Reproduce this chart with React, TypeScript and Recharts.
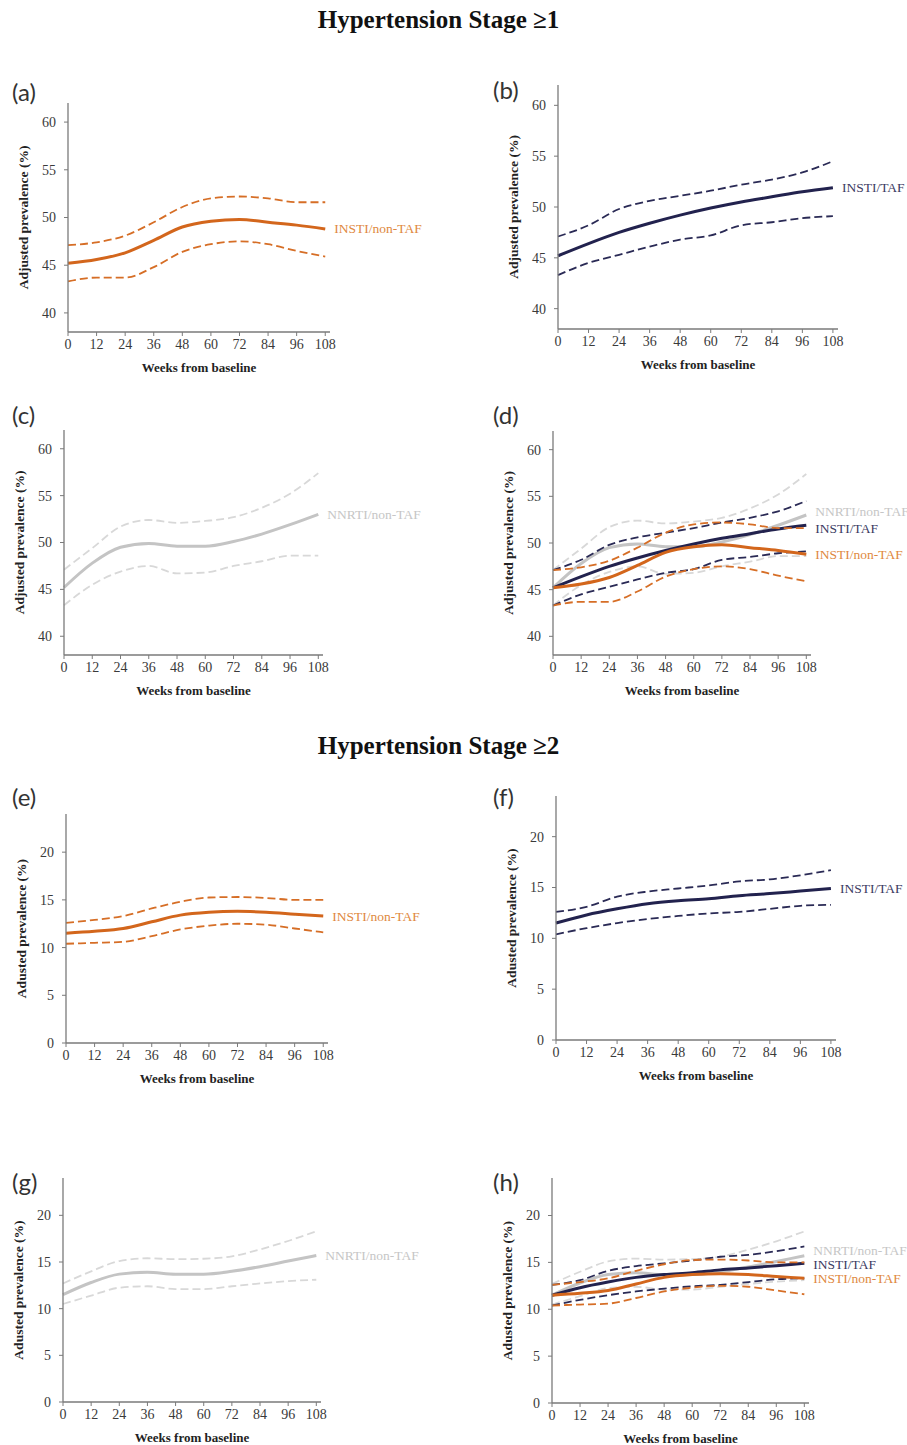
import React from 'react';
import { LineChart, Line, XAxis, YAxis } from 'recharts';

const weeks = [0, 12, 24, 36, 48, 60, 72, 84, 96, 108];
const stage1Ticks = [40, 45, 50, 55, 60];
const stage2Ticks = [0, 5, 10, 15, 20];

// Hypertension stage >=1
const insNonTaf1Mid = [45.2, 45.6, 46.3, 47.6, 49.0, 49.6, 49.8, 49.5, 49.2, 48.8];
const insNonTaf1Hi = [47.1, 47.4, 48.1, 49.5, 51.1, 52.0, 52.2, 52.0, 51.6, 51.6];
const insNonTaf1Lo = [43.3, 43.7, 43.7, 44.8, 46.4, 47.2, 47.5, 47.2, 46.5, 45.9];

const insTaf1Mid = [45.2, 46.4, 47.5, 48.4, 49.2, 49.9, 50.5, 51.0, 51.5, 51.9];
const insTaf1Hi = [47.1, 48.2, 49.8, 50.6, 51.1, 51.6, 52.2, 52.7, 53.4, 54.5];
const insTaf1Lo = [43.3, 44.5, 45.3, 46.1, 46.8, 47.2, 48.2, 48.5, 48.9, 49.1];

const nnrti1Mid = [45.2, 47.8, 49.5, 49.9, 49.6, 49.6, 50.1, 50.9, 51.9, 53.0];
const nnrti1Hi = [47.1, 49.4, 51.7, 52.4, 52.1, 52.3, 52.7, 53.7, 55.2, 57.4];
const nnrti1Lo = [43.3, 45.5, 46.9, 47.5, 46.7, 46.8, 47.5, 48.0, 48.6, 48.6];

// Hypertension stage >=2
const insNonTaf2Mid = [11.5, 11.7, 12.0, 12.7, 13.4, 13.7, 13.8, 13.7, 13.5, 13.3];
const insNonTaf2Hi = [12.6, 12.9, 13.3, 14.1, 14.8, 15.25, 15.3, 15.2, 15.0, 15.0];
const insNonTaf2Lo = [10.4, 10.5, 10.6, 11.2, 11.9, 12.3, 12.5, 12.4, 12.0, 11.6];

const insTaf2Mid = [11.5, 12.3, 12.9, 13.4, 13.7, 13.9, 14.2, 14.4, 14.65, 14.9];
const insTaf2Hi = [12.6, 13.1, 14.1, 14.6, 14.9, 15.2, 15.6, 15.8, 16.2, 16.7];
const insTaf2Lo = [10.4, 11.0, 11.5, 11.9, 12.2, 12.45, 12.6, 12.9, 13.2, 13.3];

const nnrti2Mid = [11.5, 12.8, 13.7, 13.9, 13.7, 13.7, 14.0, 14.5, 15.1, 15.7];
const nnrti2Hi = [12.7, 14.0, 15.1, 15.4, 15.3, 15.35, 15.6, 16.35, 17.25, 18.3];
const nnrti2Lo = [10.5, 11.4, 12.25, 12.4, 12.1, 12.1, 12.4, 12.7, 12.95, 13.1];

const buildRows = (groups: Record<string, number[]>) =>
  weeks.map((week, i) => {
    const row: any = { week };
    Object.keys(groups).forEach((k) => (row[k] = groups[k][i]));
    return row;
  });

const stage1Rows = buildRows({
  insMid: insNonTaf1Mid, insHi: insNonTaf1Hi, insLo: insNonTaf1Lo,
  tafMid: insTaf1Mid, tafHi: insTaf1Hi, tafLo: insTaf1Lo,
  nnMid: nnrti1Mid, nnHi: nnrti1Hi, nnLo: nnrti1Lo,
});
const stage2Rows = buildRows({
  insMid: insNonTaf2Mid, insHi: insNonTaf2Hi, insLo: insNonTaf2Lo,
  tafMid: insTaf2Mid, tafHi: insTaf2Hi, tafLo: insTaf2Lo,
  nnMid: nnrti2Mid, nnHi: nnrti2Hi, nnLo: nnrti2Lo,
});

const SERIF = '"Liberation Serif", "Times New Roman", serif';
const AXIS = '#7a7a7a';

type Series = { key: string; label: string; solid: string; dash: string; text: string; dy?: number };

const INS: Series = { key: 'ins', label: 'INSTI/non-TAF', solid: '#d3661c', dash: '#d66e26', text: '#e0883e' };
const TAF: Series = { key: 'taf', label: 'INSTI/TAF', solid: '#22224e', dash: '#2a2a55', text: '#3b3b62' };
const NN: Series = { key: 'nn', label: 'NNRTI/non-TAF', solid: '#c4c4c4', dash: '#d8d8d8', text: '#c6c6c6' };

interface PanelProps {
  letter: string;
  letterY: number;
  box: [number, number, number, number];
  domain: [number, number];
  yTicks: number[];
  yLabel: string;
  data: any[];
  series: Series[];
}

const Panel = ({ letter, letterY, box, domain, yTicks, yLabel, data, series }: PanelProps) => {
  const [x1, y1, x2, y2] = box;
  const padL = 60;
  const padT = 6;
  const padR = 110;
  const padB = 44;
  const last = weeks.length - 1;
  return (
    <>
      <div
        style={{
          position: 'absolute',
          left: x1 < 300 ? 12 : 493,
          top: letterY - 14,
          height: 28,
          lineHeight: '28px',
          fontFamily: 'Lato, "DejaVu Sans", sans-serif',
          fontSize: 24,
          color: '#333',
        }}
      >
        ({letter})
      </div>
      <div style={{ position: 'absolute', left: x1 - padL, top: y1 - padT }}>
        <LineChart
          width={Math.round(x2 - x1 + padL + padR)}
          height={Math.round(y2 - y1 + padT + padB)}
          data={data}
          margin={{ top: padT, right: padR, left: 0, bottom: 0 }}
          style={{ fontFamily: SERIF }}
        >
          <XAxis
            type="number"
            dataKey="week"
            domain={[0, 110]}
            ticks={weeks}
            height={padB}
            tickSize={4}
            tickMargin={3}
            axisLine={{ stroke: AXIS, strokeWidth: 1.3 }}
            tickLine={{ stroke: AXIS }}
            tick={{ fill: '#3a3a3a', fontSize: 14 }}
            label={{
              value: 'Weeks from baseline',
              position: 'insideBottom',
              offset: 4,
              fill: '#222',
              fontSize: 13,
              fontWeight: 'bold',
            }}
          />
          <YAxis
            type="number"
            domain={domain}
            ticks={yTicks}
            width={padL}
            tickSize={4}
            tickMargin={8}
            axisLine={{ stroke: AXIS, strokeWidth: 1.3 }}
            tickLine={{ stroke: AXIS }}
            tick={{ fill: '#3a3a3a', fontSize: 14 }}
            label={{
              value: yLabel,
              angle: -90,
              position: 'center',
              dx: -15,
              fill: '#222',
              fontSize: 13.5,
              fontWeight: 'bold',
            }}
          />
          {series.map((s) => [
            <Line
              key={s.key + 'Lo'}
              type="monotone"
              dataKey={s.key + 'Lo'}
              stroke={s.dash}
              strokeWidth={1.8}
              strokeDasharray="8 4"
              dot={false}
              activeDot={false}
              isAnimationActive={false}
            />,
            <Line
              key={s.key + 'Hi'}
              type="monotone"
              dataKey={s.key + 'Hi'}
              stroke={s.dash}
              strokeWidth={1.8}
              strokeDasharray="8 4"
              dot={false}
              activeDot={false}
              isAnimationActive={false}
            />,
            <Line
              key={s.key + 'Mid'}
              type="monotone"
              dataKey={s.key + 'Mid'}
              stroke={s.solid}
              strokeWidth={3}
              dot={false}
              activeDot={false}
              isAnimationActive={false}
              label={(p: any) =>
                p.index === last ? (
                  <text
                    x={p.x + 9}
                    y={p.y + (s.dy || 0)}
                    dominantBaseline="central"
                    fill={s.text}
                    fontSize={13.5}
                    fontFamily={SERIF}
                  >
                    {s.label}
                  </text>
                ) : (
                  <g />
                )
              }
            />,
          ])}
        </LineChart>
      </div>
    </>
  );
};

const Title = ({ text, y }: { text: string; y: number }) => (
  <div
    style={{
      position: 'absolute',
      left: 0,
      width: 877,
      top: y - 15,
      height: 30,
      lineHeight: '30px',
      textAlign: 'center',
      fontFamily: SERIF,
      fontWeight: 'bold',
      fontSize: 25,
      color: '#111',
    }}
  >
    {text}
  </div>
);

const Y1 = 'Adjusted prevalence (%)';
const Y2 = 'Adusted prevalence (%)';

export default function App() {
  return (
    <div
      style={{
        position: 'absolute',
        left: 0,
        top: 0,
        width: 907,
        height: 1445,
        background: '#fff',
        overflow: 'hidden',
        fontFamily: SERIF,
      }}
    >
      <style>{`.recharts-wrapper text, .recharts-text { font-family: "Liberation Serif", "Times New Roman", serif !important; }`}</style>
      <Title text="Hypertension Stage ≥1" y={20} />
      <Panel letter="a" letterY={92} box={[68, 102.6, 329.8, 331.3]} domain={[38, 62]} yTicks={stage1Ticks} yLabel={Y1} data={stage1Rows} series={[INS]} />
      <Panel letter="b" letterY={90} box={[558, 84.7, 837.7, 328.3]} domain={[38, 62]} yTicks={stage1Ticks} yLabel={Y1} data={stage1Rows} series={[TAF]} />
      <Panel letter="c" letterY={415} box={[64, 430.2, 323, 655.4]} domain={[38, 62]} yTicks={stage1Ticks} yLabel={Y1} data={stage1Rows} series={[NN]} />
      <Panel letter="d" letterY={415} box={[553, 430.6, 811.4, 654.7]} domain={[38, 62]} yTicks={stage1Ticks} yLabel={Y1} data={stage1Rows} series={[{ ...NN, dy: -4 }, { ...TAF, dy: 3 }, INS]} />
      <Title text="Hypertension Stage ≥2" y={746} />
      <Panel letter="e" letterY={797} box={[66.3, 814.1, 328, 1043.3]} domain={[0, 24]} yTicks={stage2Ticks} yLabel={Y2} data={stage2Rows} series={[INS]} />
      <Panel letter="f" letterY={797} box={[556.3, 796.1, 836.1, 1039.7]} domain={[0, 24]} yTicks={stage2Ticks} yLabel={Y2} data={stage2Rows} series={[TAF]} />
      <Panel letter="g" letterY={1182} box={[63, 1178.3, 321.4, 1402.7]} domain={[0, 24]} yTicks={stage2Ticks} yLabel={Y2} data={stage2Rows} series={[NN]} />
      <Panel letter="h" letterY={1182} box={[551.7, 1178.2, 808.7, 1403.3]} domain={[0, 24]} yTicks={stage2Ticks} yLabel={Y2} data={stage2Rows} series={[{ ...NN, dy: -5 }, { ...TAF, dy: 1 }, INS]} />
    </div>
  );
}
